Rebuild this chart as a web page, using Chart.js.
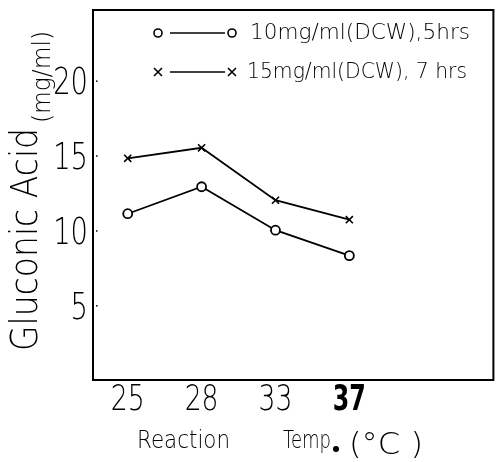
<!DOCTYPE html>
<html>
<head>
<meta charset="utf-8">
<script src="https://cdn.jsdelivr.net/npm/chart.js@4"></script>
<style>
  html, body { margin: 0; padding: 0; background: #fff; }
  #wrap { width: 500px; height: 462px; }
</style>
</head>
<body>
<div id="wrap"><canvas id="chart" width="500" height="462"></canvas></div>
<script>
// dados
const temps = ['25', '28', '33', '37'];
const acid10mg = [11.1, 12.9, 10.0, 8.3];   // 10mg/ml(DCW), 5hrs
const acid15mg = [14.8, 15.5, 12.0, 10.7];  // 15mg/ml(DCW), 7hrs
const yTicks = [5, 10, 15, 20];
const legendLabels = ['10mg/ml(DCW),5hrs', '15mg/ml(DCW), 7 hrs'];

const FONT = "'DejaVu Sans', sans-serif";

// texto esticado para caber numa largura
function fitText(ctx, txt, x, y, width) {
    const w = ctx.measureText(txt).width;
    ctx.save();
    ctx.translate(x, y);
    ctx.scale(width / w, 1);
    ctx.fillText(txt, 0, 0);
    ctx.restore();
}

// moldura, rótulos dos ticks (letra estreita), legenda e títulos
const extras = {
    id: 'extras',
    afterDraw(chart) {
        const ctx = chart.ctx;
        const a = chart.chartArea;
        const sx = chart.scales.x, sy = chart.scales.y;
        ctx.save();
        ctx.strokeStyle = '#000';
        ctx.fillStyle = '#000';
        ctx.lineWidth = 2;
        ctx.strokeRect(a.left, a.top, a.right - a.left, a.bottom - a.top);

        // ticks do eixo y
        ctx.textBaseline = 'middle';
        ctx.font = '200 37px ' + FONT;
        sy.ticks.forEach(t => {
            const lbl = t.label != null ? String(t.label) : String(t.value);
            const y = sy.getPixelForValue(t.value) + 4;
            ctx.fillRect(a.left + 3, y - 4, 1.5, 1.5);
            const w = ctx.measureText(lbl).width * 0.74;
            fitText(ctx, lbl, a.left - 5 - w, y, w);
        });

        // ticks do eixo x
        sx.ticks.forEach((t, i) => {
            const lbl = String(t.label);
            const x = sx.getPixelForValue(t.value);
            ctx.font = (i === 3 ? 'bold 36px ' : '200 36px ') + FONT;
            const w = ctx.measureText(lbl).width * (i === 3 ? 0.66 : 0.74);
            fitText(ctx, lbl, x - w / 2, a.bottom + 21, w);
        });

        // legenda
        ctx.lineWidth = 1.6;
        ctx.font = '300 21px ' + FONT;
        const rows = [{ y: 33, style: 'circle', t: 250 }, { y: 72, style: 'cross', t: 247 }];
        rows.forEach((r, i) => {
            const x1 = 158, x2 = 232;
            ctx.beginPath();
            ctx.moveTo(x1 + 12, r.y);
            ctx.lineTo(x2 - 7, r.y);
            ctx.stroke();
            [x1, x2].forEach(x => {
                ctx.beginPath();
                if (r.style === 'circle') {
                    ctx.arc(x, r.y, 4, 0, Math.PI * 2);
                } else {
                    ctx.moveTo(x - 4, r.y - 4); ctx.lineTo(x + 4, r.y + 4);
                    ctx.moveTo(x + 4, r.y - 4); ctx.lineTo(x - 4, r.y + 4);
                }
                ctx.stroke();
            });
            fitText(ctx, legendLabels[i], r.t, r.y + 1, 220);
        });

        // título do eixo y
        ctx.save();
        ctx.translate(37, 351);
        ctx.rotate(-Math.PI / 2);
        ctx.textBaseline = 'alphabetic';
        ctx.font = '200 37px ' + FONT;
        fitText(ctx, 'Gluconic Acid', 0, 0, 223);
        ctx.font = '300 24px ' + FONT;
        fitText(ctx, '(mg/ml)', 228, 13, 92);
        ctx.restore();

        // título do eixo x
        ctx.textBaseline = 'alphabetic';
        ctx.font = '300 24px ' + FONT;
        fitText(ctx, 'Reaction', 137, 448, 93);
        fitText(ctx, 'Temp', 283, 448, 48);
        ctx.beginPath();
        ctx.arc(336, 449, 3, 0, Math.PI * 2);
        ctx.fill();
        ctx.font = '200 30px ' + FONT;
        fitText(ctx, '(°C )', 349, 454, 74);
        ctx.restore();
    }
};

new Chart(document.getElementById('chart'), {
    type: 'line',
    data: {
        datasets: [{
            label: legendLabels[0],
            data: acid10mg.map((v, i) => ({ x: i, y: v })),
            borderColor: '#000',
            borderWidth: 1.8,
            pointStyle: 'circle',
            pointRadius: 4.5,
            pointBorderWidth: 1.8,
            pointBackgroundColor: '#fff',
            pointBorderColor: '#000',
            tension: 0
        }, {
            label: legendLabels[1],
            data: acid15mg.map((v, i) => ({ x: i, y: v })),
            borderColor: '#000',
            borderWidth: 1.8,
            pointStyle: 'crossRot',
            pointRadius: 5,
            pointBorderWidth: 1.6,
            pointBorderColor: '#000',
            tension: 0
        }]
    },
    options: {
        responsive: false,
        animation: false,
        layout: { padding: { top: 10, right: 3, left: 0, bottom: 0 } },
        plugins: { legend: { display: false }, tooltip: { enabled: false } },
        scales: {
            x: {
                type: 'linear',
                min: -0.47,
                max: 4.95,
                afterBuildTicks: s => { s.ticks = temps.map((t, i) => ({ value: i })); },
                afterFit: s => { s.height = 82; s.paddingLeft = 0; s.paddingRight = 0; },
                grid: { display: false, drawTicks: false },
                border: { display: false },
                ticks: { display: false, callback: v => temps[v] }
            },
            y: {
                min: 0,
                max: 24.7,
                afterBuildTicks: s => { s.ticks = yTicks.map(v => ({ value: v })); },
                afterFit: s => { s.width = 93; s.paddingTop = 0; s.paddingBottom = 0; },
                grid: { display: false, drawTicks: false },
                border: { display: false },
                ticks: { display: false }
            }
        }
    },
    plugins: [extras]
});
</script>
</body>
</html>
